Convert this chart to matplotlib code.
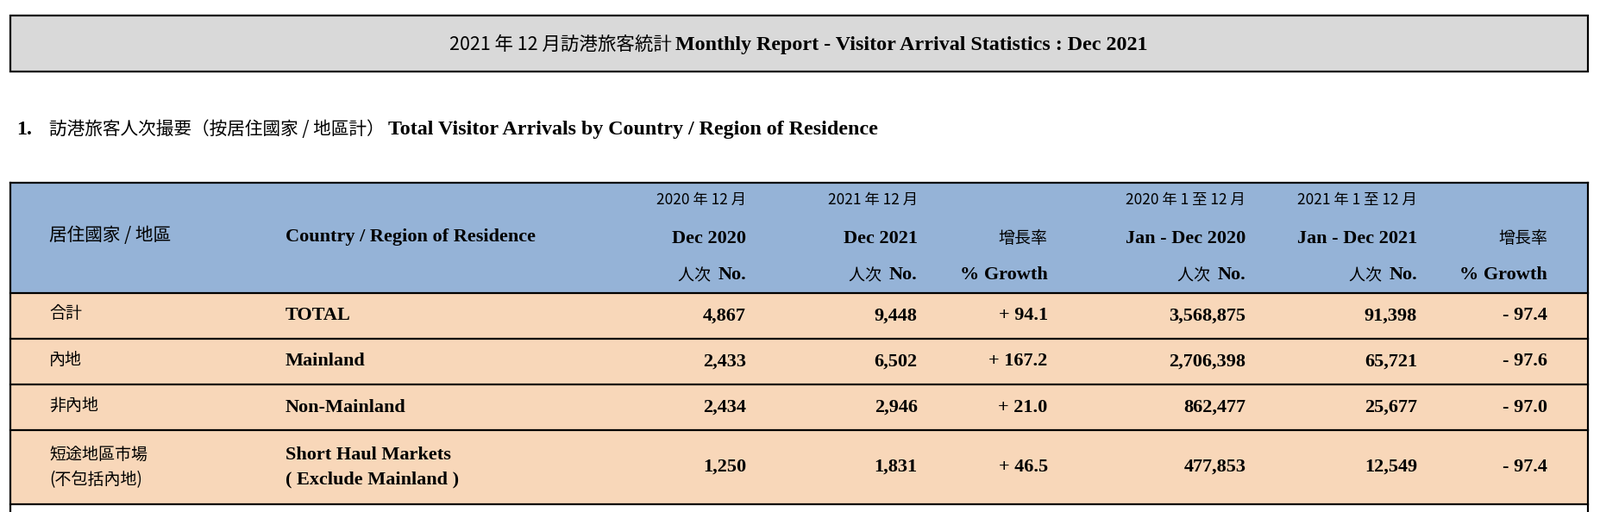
import matplotlib
matplotlib.use("Agg")
import matplotlib.pyplot as plt
from matplotlib.patches import Rectangle

W, H = 1560, 502  # layout units (scaled to 1856x594 output)
S = 1856 / 1560

TITLE_CJK = "2021 年 12 月訪港旅客統計 "
TITLE_EN = "Monthly Report - Visitor Arrival Statistics : Dec 2021"
SECTION_CJK = "訪港旅客人次撮要（按居住國家 / 地區計）"
SECTION_EN = "Total Visitor Arrivals by Country / Region of Residence"

col_right = [727, 894, 1021, 1214, 1381, 1508]
head_top = ["2020 年 12 月", "2021 年 12 月", "", "2020 年 1 至 12 月", "2021 年 1 至 12 月", ""]
head_mid = ["Dec 2020", "Dec 2021", None, "Jan - Dec 2020", "Jan - Dec 2021", None]

rows_cjk = ["合計", "內地", "非內地", "短途地區市場\n(不包括內地)"]
rows_en = ["TOTAL", "Mainland", "Non-Mainland", "Short Haul Markets\n( Exclude Mainland )"]
dec_2020 = ["4,867", "2,433", "2,434", "1,250"]
dec_2021 = ["9,448", "6,502", "2,946", "1,831"]
growth_dec = ["+ 94.1", "+ 167.2", "+ 21.0", "+ 46.5"]
ytd_2020 = ["3,568,875", "2,706,398", "862,477", "477,853"]
ytd_2021 = ["91,398", "65,721", "25,677", "12,549"]
growth_ytd = ["- 97.4", "- 97.6", "- 97.0", "- 97.4"]
row_edges = [287, 332, 377, 422, 494]

CJK_FAMILY = ["Noto Sans CJK TC", "Noto Sans CJK JP", "Noto Sans CJK SC", "Noto Sans CJK KR"]
CJK = dict(family=CJK_FAMILY, size=11.5 * S)
EN = dict(family="Liberation Serif", weight="bold", size=13.5 * S)

fig = plt.figure(figsize=(18.56, 5.94), dpi=100)
ax = fig.add_axes([0, 0, 1, 1])
ax.set_xlim(0, W)
ax.set_ylim(H, 0)
ax.axis("off")
renderer = fig.canvas.get_renderer()


def runs(x, y, parts, ha="left"):
    """Draw a line of mixed-font text segments."""
    objs = [ax.text(0, y, s, va="center", **st) for s, st in parts]
    inv = ax.transData.inverted()
    widths = []
    for t in objs:
        bb = t.get_window_extent(renderer)
        x0 = inv.transform((bb.x0, bb.y0))[0]
        x1 = inv.transform((bb.x1, bb.y0))[0]
        widths.append(x1 - x0)
    total = sum(widths)
    start = {"left": x, "right": x - total, "center": x - total / 2}[ha]
    for t, w in zip(objs, widths):
        t.set_x(start)
        start += w


# title box
ax.add_patch(Rectangle((10, 15), 1537, 55, facecolor="#d9d9d9", edgecolor="black", lw=1.6))
runs(778, 44, [(TITLE_CJK, dict(CJK, size=13 * S)), (TITLE_EN, dict(EN, size=14.5 * S))], ha="center")

# section heading
ax.text(16, 127, "1.", va="center", **dict(EN, size=14.5 * S))
runs(48, 127, [(SECTION_CJK + " ", dict(CJK, size=12.5 * S)), (SECTION_EN, dict(EN, size=14.5 * S))])

# table backgrounds
ax.add_patch(Rectangle((10, 179), 1537, 108, facecolor="#95b3d7", edgecolor="none"))
ax.add_patch(Rectangle((10, 287), 1537, 207, facecolor="#f8d7b9", edgecolor="none"))
for y in [179] + row_edges:
    ax.plot([10, 1547], [y, y], color="black", lw=1.6)
ax.plot([10, 10], [179, H], color="black", lw=1.6)
ax.plot([1547, 1547], [179, H], color="black", lw=1.6)

# header
ax.text(48, 231, "居住國家 / 地區", va="center", **dict(CJK, size=12.5 * S))
ax.text(278, 232, "Country / Region of Residence", va="center", **EN)
for xr, top, mid in zip(col_right, head_top, head_mid):
    if top:
        ax.text(xr, 196, top, ha="right", va="center", **dict(CJK, size=10.5 * S))
    if mid:
        ax.text(xr, 234, mid, ha="right", va="center", **EN)
        runs(xr, 270, [("人次  ", CJK), ("No.", EN)], ha="right")
    else:
        ax.text(xr, 234, "增長率", ha="right", va="center", **CJK)
        ax.text(xr, 270, "% Growth", ha="right", va="center", **EN)

# body rows
cols = [dec_2020, dec_2021, growth_dec, ytd_2020, ytd_2021, growth_ytd]
for i in range(len(rows_cjk)):
    y0, y1 = row_edges[i], row_edges[i + 1]
    yc = (y0 + y1) / 2
    cj = rows_cjk[i].split("\n")
    en = rows_en[i].split("\n")
    if len(cj) == 1:
        ax.text(48, yc - 2, cj[0], va="center", **CJK)
        ax.text(278, yc, en[0], va="center", **EN)
    else:
        for k in range(2):
            ax.text(48, yc - 12 + 24 * k, cj[k], va="center", **CJK)
            ax.text(278, yc - 12 + 24 * k, en[k], va="center", **EN)
    for xr, vals in zip(col_right, cols):
        ax.text(xr, yc, vals[i], ha="right", va="center", **EN)

fig.savefig("out.png", dpi=100)
